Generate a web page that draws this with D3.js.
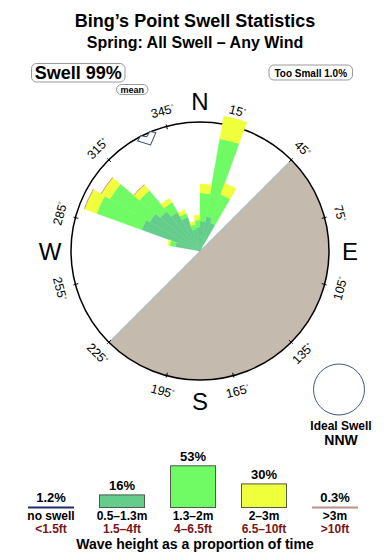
<!DOCTYPE html>
<html>
<head>
<meta charset="utf-8">
<script src="https://cdn.jsdelivr.net/npm/d3@7"></script>
<style>
  body { margin: 0; background: #fff; }
  svg { display: block; }
  text { font-family: "Liberation Sans", Arial, Helvetica, sans-serif; fill: #000; }
</style>
</head>
<body>
<script>
'use strict';

// rose bins (centre bearing, 10 deg wide) and % of time per wave height band
const dirs   = [285, 295, 305, 315, 325, 335, 345, 355, 5, 15, 25]
const pct05  = [0.75, 4.62, 4.04, 3.25, 2.43, 1.56, 0.58, 0.69, 1.08, 1.47, 1.08]
const pct13  = [0.40, 9.92, 8.96, 4.25, 1.34, 0.37, 0.29, 0.46, 2.96, 14.15, 3.25]
const pct2   = [0.15, 3.64, 2.62, 1.49, 0.70, 0.40, 0.21, 0.40, 1.35, 6.94, 1.90]
const pct3   = [0, 0.10, 0.10, 0.05, 0, 0, 0, 0, 0, 0, 0]

const meanDir = 335
const tickDirs = [15, 45, 75, 105, 135, 165, 195, 225, 255, 285, 315, 345]
const cardinals = ['N', 'E', 'S', 'W']

// bottom legend
const legCats  = ['no swell', '0.5–1.3m', '1.3–2m', '2–3m', '>3m']
const legFeet  = ['<1.5ft', '1.5–4ft', '4–6.5ft', '6.5–10ft', '>10ft']
const legPct   = [1.2, 16, 53, 30, 0.3]
const legText  = ['1.2%', '16%', '53%', '30%', '0.3%']

const colors = {
  noSwell: '#222c6e',
  h05: '#64cd8c',
  h13: '#70fa64',
  h2: '#f0ff3c',
  h3: '#c98a7a',
  blocked: '#c4baae'
}
const legColors = [colors.noSwell, colors.h05, colors.h13, colors.h2, '#b89090']

const m = { width: 390, height: 560 }
const cx = 200, cy = 251, R = 129

const svg = d3.select('body').append('svg')
  .attr('width', m.width)
  .attr('height', m.height)

// titles
svg.append('text')
  .attr('x', 195).attr('y', 27)
  .attr('text-anchor', 'middle')
  .style('font-size', '18px').style('font-weight', 'bold')
  .text('Bing’s Point Swell Statistics')

svg.append('text')
  .attr('x', 195).attr('y', 48)
  .attr('text-anchor', 'middle')
  .style('font-size', '16px').style('font-weight', 'bold')
  .text('Spring: All Swell – Any Wind')

// rounded boxes
function pill(x, y, w, h, label, size, base) {
  svg.append('rect')
    .attr('x', x).attr('y', y).attr('width', w).attr('height', h)
    .attr('rx', 5)
    .style('fill', '#fff').style('stroke', '#999').style('stroke-width', 1)
  svg.append('text')
    .attr('x', x + w / 2).attr('y', base)
    .attr('text-anchor', 'middle')
    .style('font-size', size + 'px').style('font-weight', 'bold')
    .text(label)
}
pill(31.5, 63.5, 93.5, 18.5, 'Swell 99%', 18, 79)
pill(116.5, 84.5, 31.5, 10, 'mean', 9, 92.6)
pill(269, 65, 83.5, 15, 'Too Small 1.0%', 10, 76.5)

// rose
const rose = svg.append('g').attr('transform', 'translate(' + cx + ',' + cy + ')')
const rad = (d) => d * Math.PI / 180
const pos = (b, r) => [r * Math.sin(rad(b)), -r * Math.cos(rad(b))]

// shaded land sector
rose.append('path')
  .attr('d', d3.arc()({ innerRadius: 0, outerRadius: R, startAngle: rad(45), endAngle: rad(225) }))
  .style('fill', colors.blocked)
rose.append('line')
  .attr('x1', pos(45, R)[0]).attr('y1', pos(45, R)[1])
  .attr('x2', pos(225, R)[0]).attr('y2', pos(225, R)[1])
  .style('stroke', '#a8c8e6').style('stroke-width', 1)

rose.append('circle')
  .attr('r', R)
  .style('fill', 'none').style('stroke', '#000').style('stroke-width', 1.5)

// ticks
rose.selectAll('.tick').data(tickDirs).join('line')
  .attr('class', 'tick')
  .attr('x1', (d) => pos(d, R - 3)[0]).attr('y1', (d) => pos(d, R - 3)[1])
  .attr('x2', (d) => pos(d, R + 2)[0]).attr('y2', (d) => pos(d, R + 2)[1])
  .style('stroke', '#000').style('stroke-width', 1)

// degree labels, rotated along the rim
const rot = (b) => (b > 90 && b < 270) ? b - 180 : b
rose.selectAll('.deg').data(tickDirs).join('text')
  .attr('class', 'deg')
  .attr('transform', (d) => 'translate(' + pos(d, 145) + ') rotate(' + rot(d) + ')')
  .attr('text-anchor', 'middle')
  .attr('dy', '0.35em')
  .style('font-size', '12.5px')
  .each(function (d) {
    const t = d3.select(this)
    t.append('tspan').text(d)
    t.append('tspan').attr('dy', '-0.5em').style('font-size', '7px').text('°')
  })

// compass letters
rose.selectAll('.card').data(cardinals).join('text')
  .attr('class', 'card')
  .attr('x', (d, i) => pos(i * 90, 150)[0])
  .attr('y', (d, i) => pos(i * 90, 150)[1])
  .attr('dy', '0.36em')
  .attr('text-anchor', 'middle')
  .style('font-size', '24px')
  .text((d) => d)

// stacked wedges
const rows = dirs.map((d, i) => ({ dir: d, h05: pct05[i], h13: pct13[i], h2: pct2[i], h3: pct3[i] }))
const keys = ['h05', 'h13', 'h2', 'h3']
const stacked = d3.stack().keys(keys)(rows)
const rScale = d3.scaleSqrt().domain([0, 20]).range([0, R])
const wedge = d3.arc()

rose.selectAll('.band').data(stacked).join('g')
  .attr('class', 'band')
  .style('fill', (s) => colors[s.key])
  .style('stroke', (s) => colors[s.key])
  .style('stroke-width', 0.4)
  .selectAll('path').data((s) => s.filter((p) => p[1] > p[0]))
  .join('path')
  .attr('d', (p) => wedge({
    innerRadius: rScale(p[0]),
    outerRadius: rScale(p[1]),
    startAngle: rad(p.data.dir - 5),
    endAngle: rad(p.data.dir + 5)
  }))

// mean direction marker
const markerPts = [[-10, -3], [-5, -6.5], [0, -3], [5, -6.5], [10, -3], [0, 6]]
rose.append('path')
  .attr('d', d3.line()(markerPts) + 'Z')
  .attr('transform', 'rotate(' + meanDir + ') translate(0,' + (-123) + ')')
  .style('fill', '#fff').style('stroke', '#2d4d74').style('stroke-width', 1)

// ideal swell
svg.append('circle')
  .attr('cx', 339).attr('cy', 389.5).attr('r', 25.5)
  .style('fill', 'none').style('stroke', '#3a5a80').style('stroke-width', 1)
svg.append('text')
  .attr('x', 341).attr('y', 429.5).attr('text-anchor', 'middle')
  .style('font-size', '12px').style('font-weight', 'bold')
  .text('Ideal Swell')
svg.append('text')
  .attr('x', 341).attr('y', 445).attr('text-anchor', 'middle')
  .style('font-size', '14px').style('font-weight', 'bold')
  .text('NNW')

// wave height legend
const xLeg = d3.scalePoint().domain(legCats).range([51, 335])
const hLeg = d3.scaleLinear().domain([0, 53]).range([0, 41.7])
const base = 507.5
const bw = 45

legCats.forEach((c, i) => {
  const x = xLeg(c)
  const h = hLeg(legPct[i])
  if (h >= 3) {
    svg.append('rect')
      .attr('x', x - bw / 2).attr('y', base - h)
      .attr('width', bw).attr('height', h)
      .style('fill', legColors[i]).style('stroke', '#4d5c4d').style('stroke-width', 1)
  } else {
    svg.append('line')
      .attr('x1', x - 23).attr('x2', x + 23)
      .attr('y1', base).attr('y2', base)
      .style('stroke', legColors[i]).style('stroke-width', 1.8)
  }
  svg.append('text')
    .attr('x', x).attr('y', base - h - 5)
    .attr('text-anchor', 'middle')
    .style('font-size', '13px').style('font-weight', 'bold')
    .text(legText[i])
  svg.append('text')
    .attr('x', x).attr('y', 520)
    .attr('text-anchor', 'middle')
    .style('font-size', '12px').style('font-weight', 'bold')
    .text(c)
  svg.append('text')
    .attr('x', x).attr('y', 532.5)
    .attr('text-anchor', 'middle')
    .style('font-size', '12px').style('font-weight', 'bold')
    .style('fill', '#7a1616')
    .text(legFeet[i])
})

svg.append('text')
  .attr('x', 195).attr('y', 548.5)
  .attr('text-anchor', 'middle')
  .style('font-size', '14px').style('font-weight', 'bold')
  .text('Wave height as a proportion of time')
</script>
</body>
</html>
